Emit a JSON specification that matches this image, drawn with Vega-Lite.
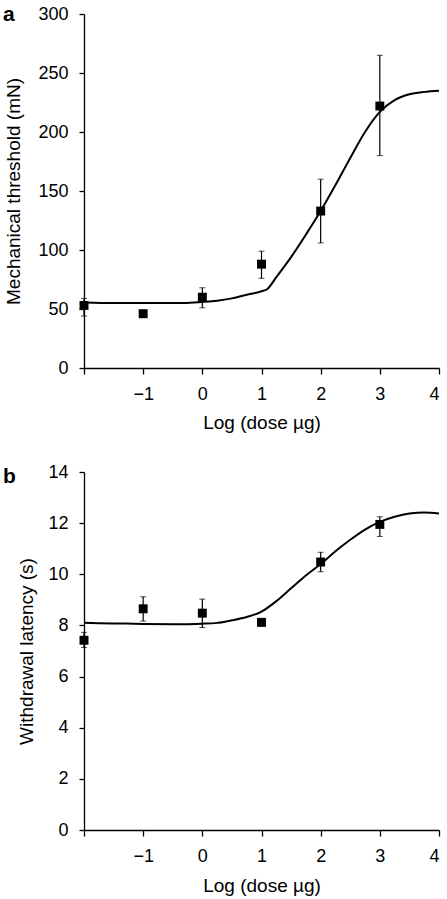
{
  "$schema": "https://vega.github.io/schema/vega-lite/v6.json",
  "padding": {"left": 3, "top": 4, "right": 3, "bottom": 3},
  "spacing": 31,
  "config": {
    "view": {"stroke": null},
    "font": "Liberation Sans",
    "axis": {
      "grid": false,
      "domainColor": "black",
      "domainWidth": 1.3,
      "tickColor": "black",
      "tickWidth": 1.3,
      "tickSize": 5,
      "labelColor": "black",
      "titleColor": "black",
      "labelFont": "Liberation Sans",
      "titleFont": "Liberation Sans",
      "labelFontSize": 18,
      "titleFontSize": 19,
      "titleFontWeight": "normal",
      "labelPadding": 11
    },
    "title": {"font": "Liberation Sans", "color": "black"}
  },
  "datasets": {
    "curveA": [
      {"x": -2, "y": 55.5}, {"x": -1.5, "y": 55}, {"x": -1, "y": 55}, {"x": -0.5, "y": 55},
      {"x": 0, "y": 56}, {"x": 0.25, "y": 57}, {"x": 0.5, "y": 59}, {"x": 0.75, "y": 62},
      {"x": 1, "y": 65}, {"x": 1.1, "y": 67}, {"x": 1.25, "y": 77}, {"x": 1.5, "y": 94},
      {"x": 1.75, "y": 113}, {"x": 2, "y": 133}, {"x": 2.25, "y": 155}, {"x": 2.5, "y": 178},
      {"x": 2.75, "y": 200}, {"x": 3, "y": 217}, {"x": 3.25, "y": 227}, {"x": 3.5, "y": 232},
      {"x": 3.75, "y": 234}, {"x": 4, "y": 235}
    ],
    "ptsA": [
      {"x": -2, "y": 53, "lo": 44, "hi": 59},
      {"x": -1, "y": 46, "lo": 43, "hi": 49},
      {"x": 0, "y": 60, "lo": 51, "hi": 68},
      {"x": 1, "y": 88, "lo": 76, "hi": 99},
      {"x": 2, "y": 133, "lo": 106, "hi": 160},
      {"x": 3, "y": 222, "lo": 180, "hi": 265}
    ],
    "curveB": [
      {"x": -2, "y": 8.1}, {"x": -1.5, "y": 8.08}, {"x": -1, "y": 8.06}, {"x": -0.5, "y": 8.05},
      {"x": 0, "y": 8.07}, {"x": 0.25, "y": 8.1}, {"x": 0.5, "y": 8.2}, {"x": 0.75, "y": 8.33},
      {"x": 1, "y": 8.54}, {"x": 1.25, "y": 8.95}, {"x": 1.5, "y": 9.45}, {"x": 1.75, "y": 9.95},
      {"x": 2, "y": 10.4}, {"x": 2.25, "y": 10.9}, {"x": 2.5, "y": 11.35}, {"x": 2.75, "y": 11.75},
      {"x": 3, "y": 12.05}, {"x": 3.25, "y": 12.25}, {"x": 3.5, "y": 12.38}, {"x": 3.75, "y": 12.42},
      {"x": 4, "y": 12.38}
    ],
    "ptsB": [
      {"x": -2, "y": 7.42, "lo": 7.14, "hi": 7.73},
      {"x": -1, "y": 8.65, "lo": 8.17, "hi": 9.12},
      {"x": 0, "y": 8.48, "lo": 7.92, "hi": 9.03},
      {"x": 1, "y": 8.12, "lo": 7.98, "hi": 8.27},
      {"x": 2, "y": 10.48, "lo": 10.1, "hi": 10.86},
      {"x": 3, "y": 11.95, "lo": 11.48, "hi": 12.25}
    ]
  },
  "vconcat": [
    {
      "width": 355,
      "height": 354,
      "title": {"text": "a", "anchor": "start", "frame": "group", "fontSize": 21, "fontWeight": "bold", "dx": -81, "dy": 20, "offset": 0},
      "encoding": {
        "x": {"field": "x", "type": "quantitative", "scale": {"domain": [-2, 4], "nice": false},
          "axis": {"title": "Log (dose µg)", "values": [-2, -1, 0, 1, 2, 3, 4], "labelExpr": "datum.value == -2 ? '' : datum.label", "tickSize": 6, "titlePadding": 10}}
      },
      "layer": [
        {
          "data": {"name": "curveA"},
          "mark": {"type": "line", "color": "black", "strokeWidth": 2, "interpolate": "monotone"},
          "encoding": {"y": {"field": "y", "type": "quantitative", "scale": {"domain": [0, 300], "nice": false},
            "axis": {"title": "Mechanical threshold (mN)", "values": [0, 50, 100, 150, 200, 250, 300], "titlePadding": 14}}}
        },
        {
          "data": {"name": "ptsA"},
          "mark": {"type": "errorbar", "color": "black", "ticks": {"size": 6, "color": "black"}, "rule": {"strokeWidth": 1.2}},
          "encoding": {"y": {"field": "lo", "type": "quantitative", "title": "Mechanical threshold (mN)"}, "y2": {"field": "hi"}}
        },
        {
          "data": {"name": "ptsA"},
          "mark": {"type": "point", "shape": "square", "filled": true, "size": 80, "color": "black", "opacity": 1},
          "encoding": {"y": {"field": "y", "type": "quantitative", "title": "Mechanical threshold (mN)"}}
        }
      ]
    },
    {
      "width": 355,
      "height": 358,
      "title": {"text": "b", "anchor": "start", "frame": "group", "fontSize": 21, "fontWeight": "bold", "dx": -81, "dy": 24, "offset": 0},
      "encoding": {
        "x": {"field": "x", "type": "quantitative", "scale": {"domain": [-2, 4], "nice": false},
          "axis": {"title": "Log (dose µg)", "values": [-2, -1, 0, 1, 2, 3, 4], "labelExpr": "datum.value == -2 ? '' : datum.label", "tickSize": 6, "titlePadding": 11}}
      },
      "layer": [
        {
          "data": {"name": "curveB"},
          "mark": {"type": "line", "color": "black", "strokeWidth": 2, "interpolate": "monotone"},
          "encoding": {"y": {"field": "y", "type": "quantitative", "scale": {"domain": [0, 14], "nice": false},
            "axis": {"title": "Withdrawal latency (s)", "values": [0, 2, 4, 6, 8, 10, 12, 14], "titlePadding": 11}}}
        },
        {
          "data": {"name": "ptsB"},
          "mark": {"type": "errorbar", "color": "black", "ticks": {"size": 6, "color": "black"}, "rule": {"strokeWidth": 1.2}},
          "encoding": {"y": {"field": "lo", "type": "quantitative", "title": "Withdrawal latency (s)"}, "y2": {"field": "hi"}}
        },
        {
          "data": {"name": "ptsB"},
          "mark": {"type": "point", "shape": "square", "filled": true, "size": 80, "color": "black", "opacity": 1},
          "encoding": {"y": {"field": "y", "type": "quantitative", "title": "Withdrawal latency (s)"}}
        }
      ]
    }
  ]
}
